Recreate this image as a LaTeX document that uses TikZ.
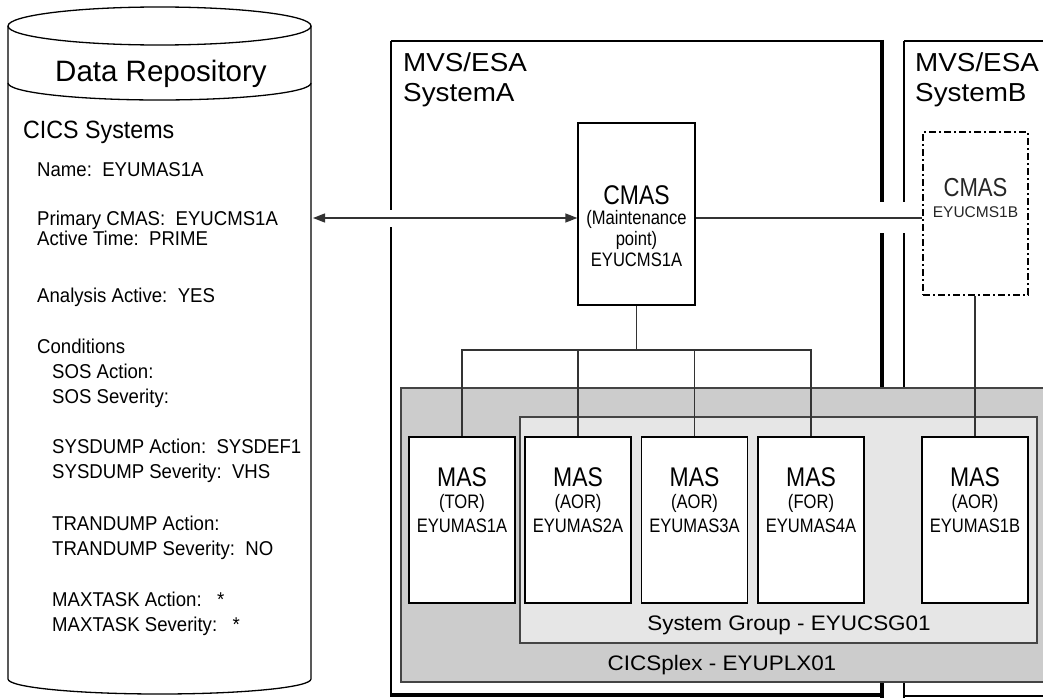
\documentclass[tikz,border=0pt]{standalone}
\usepackage{fontspec}
\setmainfont{Liberation Sans}
\newfontfamily\narf[FakeStretch=0.85]{Liberation Sans}
\newfontfamily\lstf[FakeStretch=0.93]{Liberation Sans}
\newfontfamily\widf[FakeStretch=1.07]{Liberation Sans}
\usetikzlibrary{arrows.meta}
\definecolor{plexgray}{HTML}{CCCCCC}
\definecolor{grpgray}{HTML}{E6E6E6}
\definecolor{edgegray}{HTML}{444444}
\definecolor{linegray}{HTML}{333333}
\tikzset{
  outline/.style={draw=black, line width=1.3pt},
  thickline/.style={draw=black, line width=4pt},
  box/.style={draw=black, line width=1.3pt, fill=white, inner sep=0pt},
  masbox/.style={box, minimum width=106pt, minimum height=166pt},
  dashbox/.style={draw=black, line width=1.1pt, inner sep=0pt, dash pattern=on 7pt off 3pt on 2pt off 3pt},
  conn/.style={draw=linegray, line width=1.3pt},
  arr/.style={conn, {Triangle[length=12pt,width=9pt]}-{Triangle[length=12pt,width=9pt]}},
  lt/.style={inner sep=0pt, anchor=base west},
  ct/.style={inner sep=0pt, anchor=base},
  listtxt/.style={lt, font=\lstf\fontsize{20}{24}\selectfont},
  subtxt/.style={lt, font=\lstf\fontsize{20}{24}\selectfont},
  bigbox/.style={ct, font=\narf\fontsize{27}{30}\selectfont},
  smallbox/.style={ct, font=\narf\fontsize{19.5}{22}\selectfont},
  systxt/.style={lt, font=\widf\fontsize{26}{30}\selectfont},
  regiontxt/.style={ct, font=\widf\fontsize{21}{24}\selectfont},
}
\begin{document}
\begin{tikzpicture}[x=1pt,y=-1pt]
\useasboundingbox (0,0) rectangle (1043,698);
\clip (0,0) rectangle (1043,698);

% ---------- Data repository cylinder ----------
\draw[outline] (8,26) -- (8,679) arc[start angle=180, end angle=360, x radius=151.5pt, y radius=15pt] -- (311,26);
\draw[outline] (159.5,26) ellipse [x radius=151.5pt, y radius=19pt];
\draw[outline] (311,83) arc[start angle=0, end angle=-180, x radius=151.5pt, y radius=17pt];
\coordinate (dbR) at (313,218);

\node[ct, font=\fontsize{29.5}{33}\selectfont] (drt) at (161,82) {Data Repository};
\node[lt, font=\lstf\fontsize{25}{30}\selectfont] (cics) at (23,138) {CICS Systems};
\node[listtxt] (l1) at (37,176) {Name:\ \ EYUMAS1A};
\node[listtxt] (l2) at (37,225) {Primary CMAS:\ \ EYUCMS1A};
\node[listtxt] (l3) at (37,245) {Active Time:\ \ PRIME};
\node[listtxt] (l4) at (37,302) {Analysis Active:\ \ YES};
\node[listtxt] (l5) at (37,353) {Conditions};
\node[subtxt] (l6) at (52,378) {SOS Action:};
\node[subtxt] (l7) at (52,403) {SOS Severity:};
\node[subtxt] (l8) at (52,453) {SYSDUMP Action:\ \ SYSDEF1};
\node[subtxt] (l9) at (52,478) {SYSDUMP Severity:\ \ VHS};
\node[subtxt] (l10) at (52,530) {TRANDUMP Action:};
\node[subtxt] (l11) at (52,555) {TRANDUMP Severity:\ \ NO};
\node[subtxt] (l12) at (52,606) {MAXTASK Action:\ \ \ *};
\node[subtxt] (l13) at (52,631) {MAXTASK Severity:\ \ \ *};

% ---------- MVS/ESA system boxes ----------
\draw[outline] (391,41) -- (882,41);
\draw[outline] (391,41) -- (391,210);
\draw[outline] (391,227) -- (391,697);
\draw[thickline] (882,40) -- (882,202);
\draw[thickline] (882,233) -- (882,698);
\draw[thickline] (390,695) -- (884,695);
\draw[outline] (904,41) -- (1050,41);
\draw[outline] (904,41) -- (904,202);
\draw[outline] (904,233) -- (904,698);
\draw[outline] (904,696) -- (1050,696);

\node[systxt] (mvsA) at (403,72) {MVS/ESA};
\node[systxt] (sysA) at (403,102) {SystemA};
\node[systxt] (mvsB) at (915,72) {MVS/ESA};
\node[systxt] (sysB) at (915,102) {SystemB};

% ---------- CICSplex and system group ----------
\draw[draw=edgegray, line width=1.2pt, fill=plexgray] (401,388) rectangle (1060,682);
\draw[draw=edgegray, line width=1.2pt, fill=grpgray] (520,417) rectangle (1037,643);
\node[regiontxt] (grp) at (789,630) {System Group - EYUCSG01};
\node[regiontxt] (plex) at (722,670) {CICSplex - EYUPLX01};

% ---------- CMAS boxes ----------
\node[box, minimum width=117pt, minimum height=182pt] (cmasA) at (636.5,214) {};
\node[bigbox] (cmasAt1) at (636.5,204) {CMAS};
\node[smallbox] (cmasAt2) at (636.5,224) {(Maintenance};
\node[smallbox] (cmasAt3) at (636.5,245) {point)};
\node[smallbox] (cmasAt4) at (636.5,266) {EYUCMS1A};

\node[dashbox, minimum width=105pt, minimum height=163pt] (cmasB) at (975.5,213.5) {};
\node[ct, font=\narf\fontsize{26}{30}\selectfont, text=black!85] (cmasBt1) at (975.5,196) {CMAS};
\node[ct, font=\fontsize{15.5}{18}\selectfont, text=black!85] (cmasBt2) at (975.5,217) {EYUCMS1B};

% ---------- MAS boxes ----------
\node[masbox] (mas1) at (462,520) {};
\node[masbox] (mas2) at (578,520) {};
\node[masbox] (mas3) at (694.5,520) {};
\node[masbox] (mas4) at (811,520) {};
\node[masbox] (mas5) at (975,520) {};

\foreach \n/\x/\r/\id in {1/462/TOR/EYUMAS1A, 2/578/AOR/EYUMAS2A, 3/694.5/AOR/EYUMAS3A, 4/811/FOR/EYUMAS4A, 5/975/AOR/EYUMAS1B}{
  \node[bigbox] (mast\n a) at (\x,486) {MAS};
  \node[smallbox] (mast\n b) at (\x,508) {(\r)};
  \node[smallbox] (mast\n c) at (\x,532) {\id};
}

% ---------- connectors ----------
\draw[arr] (dbR) -- ([yshift=-4pt]cmasA.west);
\draw[conn] ([yshift=-4pt]cmasA.east) -- ([yshift=-4.5pt]cmasB.west);
\coordinate (bus) at (636.5,350);
\draw[conn] (cmasA.south) -- (bus);
\draw[conn] (mas1.north) -- (mas1.north |- bus) -- (mas4.north |- bus) -- (mas4.north);
\draw[conn] (mas2.north) -- (mas2.north |- bus);
\draw[conn] (mas3.north) -- (mas3.north |- bus);
\draw[conn] (cmasB.south -| mas5.north) -- (mas5.north);
\end{tikzpicture}
\end{document}
